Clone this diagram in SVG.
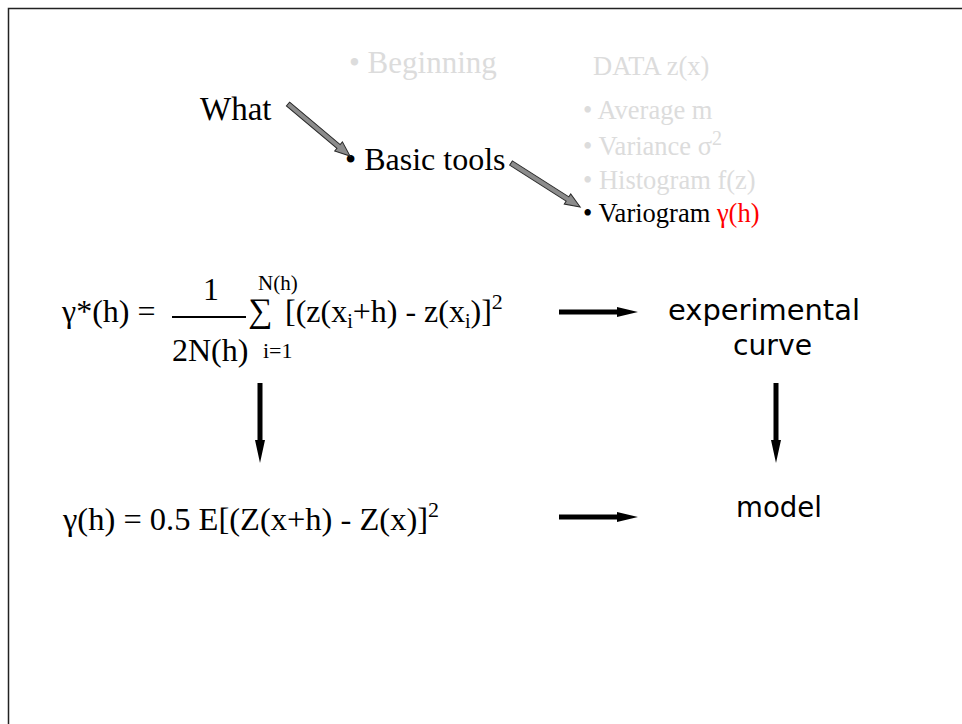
<svg xmlns="http://www.w3.org/2000/svg" width="962" height="724" viewBox="0 0 962 724">
<style>
.t{font-family:"Liberation Serif","Times New Roman",serif;fill:#000}
.g{fill:#dcdcdc}
.c{font-family:"Comic Sans MS","DejaVu Sans",sans-serif;font-size:28px;fill:#000}
.blk{fill:#000}
.gry{fill:#8c8c8c;stroke:#2a2a2a;stroke-width:1}
</style>
<rect x="8.5" y="8.5" width="1000" height="1000" fill="#fff" stroke="#222" stroke-width="1.5"/>
<g id="beginning"><text class="t g" x="349" y="73" font-size="31">• Beginning</text></g>
<g id="what"><text class="t" x="200" y="120" font-size="33">What</text></g>
<g id="basic-tools"><text class="t" x="345" y="170" font-size="32">• Basic tools</text></g>
<g id="data"><text class="t g" x="593" y="75" font-size="26.5">DATA z(x)</text></g>
<g id="list">
<text class="t g" x="583" y="119" font-size="26.5">• Average m</text>
<text class="t g" x="583" y="155" font-size="26.5">• Variance σ<tspan font-size="20" dy="-10">2</tspan></text>
<text class="t g" x="583" y="189" font-size="26.5">• Histogram f(z)</text>
<text class="t" x="583" y="222" font-size="26.5">• Variogram <tspan fill="#ff0000">γ(h)</tspan></text>
</g>
<g id="formula-experimental">
<text class="t" x="62" y="322" font-size="32">γ*(h) =</text>
<text class="t" x="203" y="300" font-size="32">1</text>
<rect x="172" y="316" width="74" height="2" class="blk"/>
<text class="t" x="172" y="361" font-size="32">2N(h)</text>
<text class="t" x="258" y="290" font-size="21">N(h)</text>
<text class="t" x="248" y="322" font-size="34">∑</text>
<text class="t" x="263" y="358" font-size="22">i=1</text>
<text class="t" x="285" y="322" font-size="32">[(z(x<tspan font-size="20" dy="6">i</tspan><tspan dy="-6">+h) - z(x</tspan><tspan font-size="20" dy="6">i</tspan><tspan dy="-6">)]</tspan><tspan font-size="22" dy="-13">2</tspan></text>
</g>
<g id="formula-model">
<text class="t" x="63" y="530" font-size="32.5">γ(h) = 0.5 E[(Z(x+h) - Z(x)]<tspan font-size="22" dy="-13">2</tspan></text>
</g>
<g id="experimental-curve">
<text class="c" x="668" y="320" textLength="192" lengthAdjust="spacingAndGlyphs">experimental</text>
<text class="c" x="733" y="355" textLength="79" lengthAdjust="spacingAndGlyphs">curve</text>
</g>
<g id="model"><text class="c" x="736" y="517" textLength="86" lengthAdjust="spacingAndGlyphs">model</text></g>
<g id="connectors">
<g transform="translate(288,104) rotate(40)"><polygon class="gry" points="0,-2.5 66,-2.5 66,-6 81,0 66,6 66,2.5 0,2.5"/></g>
<g transform="translate(511,163) rotate(32.5)"><polygon class="gry" points="0,-2.5 67,-2.5 67,-6 82,0 67,6 67,2.5 0,2.5"/></g>
<polygon class="blk" points="559,309.5 617,309.5 617,307 638,312 617,317 617,314.5 559,314.5"/>
<polygon class="blk" points="559,514.5 617,514.5 617,512 638,517 617,522 617,519.5 559,519.5"/>
<polygon class="blk" points="257.5,383 262.5,383 262.5,440 265,440 260,463 255,440 257.5,440"/>
<polygon class="blk" points="773.5,383 778.5,383 778.5,440 781,440 776,463 771,440 773.5,440"/>
</g>
</svg>
